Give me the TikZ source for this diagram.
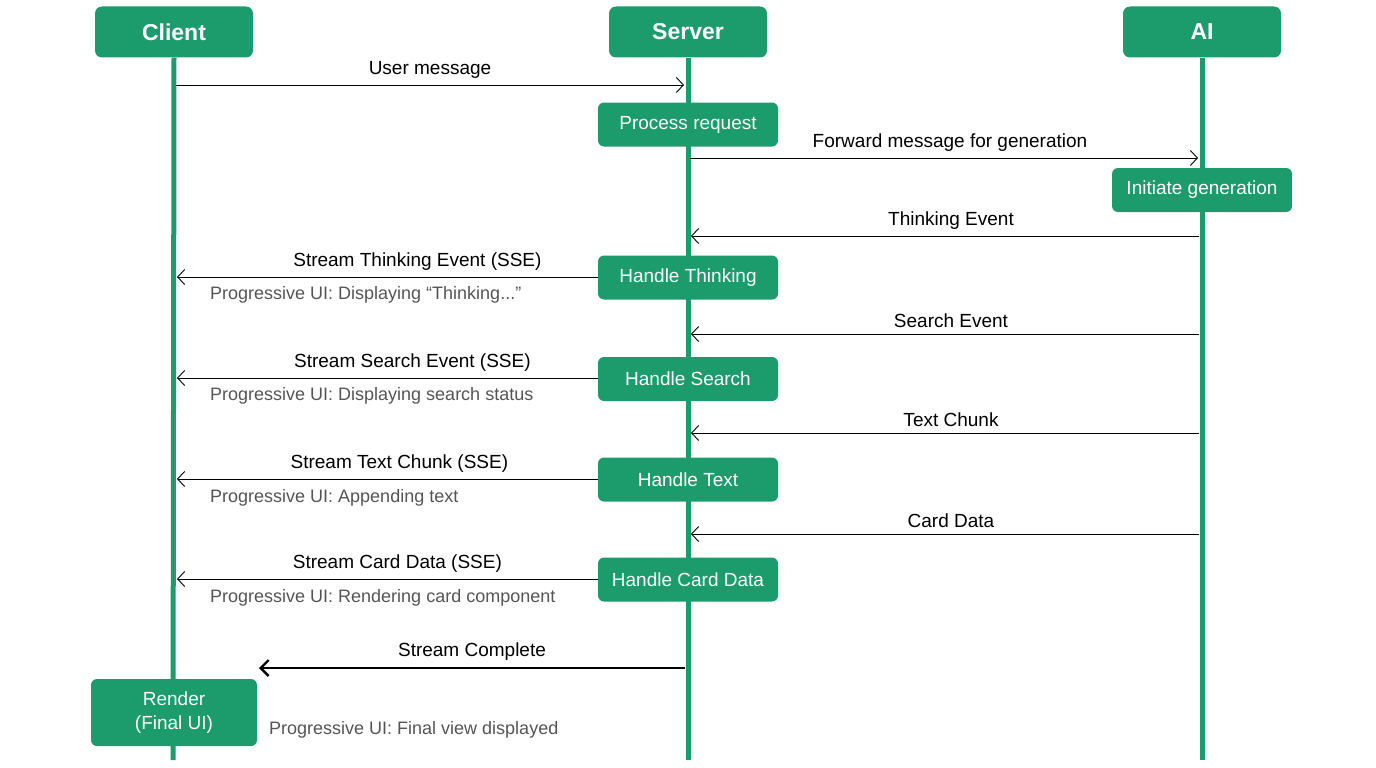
\documentclass[tikz,border=0pt]{standalone}
\usepackage{fontspec}
\setmainfont{Liberation Sans}
\usetikzlibrary{arrows.meta}
\definecolor{gr}{RGB}{28,156,108}
\definecolor{nt}{RGB}{85,85,85}
\begin{document}
\begin{tikzpicture}[x=1pt,y=-1pt,
 head/.style={fill=gr,rounded corners=7pt,text=white,font=\bfseries\fontsize{23}{25}\selectfont,minimum width=158pt,minimum height=51pt,inner sep=0pt},
 act/.style={fill=gr,rounded corners=6pt,text=white,font=\fontsize{19}{22}\selectfont,minimum width=180pt,minimum height=44pt,inner sep=0pt,align=center},
 life/.style={gr,line width=5pt},
 msg/.style={line width=0.9pt,-{Straight Barb[length=7pt,width=15pt,line width=0.9pt]}},
 lbl/.style={font=\fontsize{19}{22}\selectfont,inner sep=0pt},
 note/.style={font=\fontsize{18}{21}\selectfont,text=nt,inner sep=0pt,anchor=west}]
\useasboundingbox (0,0) rectangle (1376,768);
\coordinate (cb) at (173,760); \coordinate (sb) at (688,760); \coordinate (ab) at (1202,760);
\node[head] (C) at (174,32) {Client};
\node[head] (S) at (688,32) {Server};
\node[head] (A) at (1202,32) {AI};
\draw[life] (C.south) -- (cb);
\draw[life] (S.south) -- (sb);
\draw[life] (A.south) -- (ab);
\node[act] (pr) at (688,124.5) {Process request};
\node[act] (ig) at (1202,190) {Initiate generation};
\node[act] (ht) at (688,277.5) {Handle Thinking};
\node[act] (hs) at (688,379) {Handle Search};
\node[act] (hx) at (688,479.5) {Handle Text};
\node[act] (hc) at (688,579.5) {Handle Card Data};
\node[act,minimum width=166pt,minimum height=67pt,font=\fontsize{19}{24}\selectfont] (rd) at (174,712.5) {Render\\(Final UI)};
% messages
\coordinate (c85) at (176,85); \coordinate (s85) at (684,85);
\draw[msg] (c85) -- node[lbl,above=6pt]{User message} (s85);
\coordinate (s158) at (690,158); \coordinate (a158) at (1198,158);
\draw[msg] (s158) -- node[lbl,above=6pt,xshift=6pt]{Forward message for generation} (a158);
\foreach \y/\t in {236/Thinking Event,334/Search Event,433/Text Chunk,534/Card Data}{
 \coordinate (a\y) at (1199,\y); \coordinate (s\y) at (691,\y);
 \draw[msg] (a\y) -- node[lbl,above=6pt,xshift=6pt]{\t} (s\y);}
\coordinate (c277) at (177,277);
\draw[msg] (ht.west|-c277) -- node[lbl,above=6pt,xshift=30pt]{Stream Thinking Event (SSE)} (c277);
\node[note] at (210,295) {Progressive UI: Displaying “Thinking...”};
\coordinate (c378) at (177,378);
\draw[msg] (hs.west|-c378) -- node[lbl,above=6pt,xshift=25pt]{Stream Search Event (SSE)} (c378);
\node[note] at (210,396) {Progressive UI: Displaying search status};
\coordinate (c479) at (177,479);
\draw[msg] (hx.west|-c479) -- node[lbl,above=6pt,xshift=12pt]{Stream Text Chunk (SSE)} (c479);
\node[note] at (210,498) {Progressive UI: Appending text};
\coordinate (c579) at (177,579);
\draw[msg] (hc.west|-c579) -- node[lbl,above=6pt,xshift=10pt]{Stream Card Data (SSE)} (c579);
\node[note] at (210,598) {Progressive UI: Rendering card component};
\coordinate (s668) at (685,668); \coordinate (c668) at (259,668);
\draw[line width=2.4pt,-{Straight Barb[length=8pt,width=16pt,line width=2.4pt]}] (s668) -- node[lbl,above=6pt]{Stream Complete} (c668);
\node[note] at (269,730) {Progressive UI: Final view displayed};
\end{tikzpicture}
\end{document}
